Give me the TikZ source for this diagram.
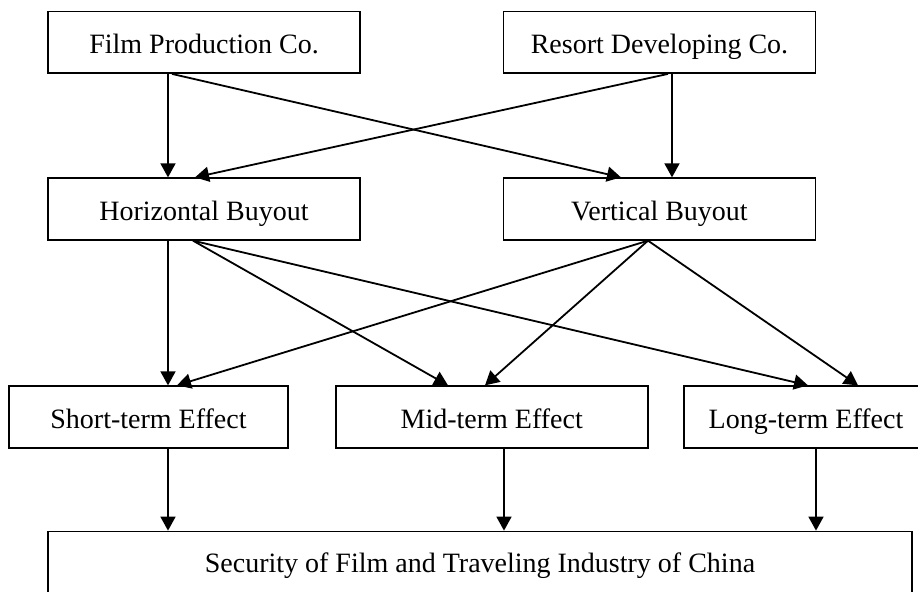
\documentclass[tikz,border=0pt]{standalone}
\usepackage{fontspec}
\setmainfont{Liberation Serif}
\usetikzlibrary{arrows.meta,calc}
\tikzset{
    unitbox/.style={draw,line width=0.9pt,inner sep=0pt,minimum height=30.75pt,text height=12pt,text depth=1pt,font=\fontsize{14}{16}\selectfont},
    firmbox/.style={unitbox,minimum width=156pt},
    effectbox/.style={unitbox,minimum width=139.5pt},
    goalbox/.style={unitbox,minimum width=432pt,minimum height=41.5pt,text height=10pt,text depth=10.5pt},
    flowvec/.style={-{Triangle[length=7pt,width=7.5pt]},line width=0.9pt}
}

\begin{document}
\begin{tikzpicture}[x=0.5pt,y=-0.5pt]
    \useasboundingbox (0,0) rectangle (918,591);
    % Companies
    \node[firmbox] (film) at (204,42.25) {Film Production Co.};
    \node[firmbox] (resort) at (659.5,42.25) {Resort Developing Co.};
    % Buyouts
    \node[firmbox] (hb) at (204,209) {Horizontal Buyout};
    \node[firmbox] (vb) at (659.5,209) {Vertical Buyout};
    % Effects
    \node[effectbox] (short) at (148.5,417) {Short-term Effect};
    \node[firmbox] (mid) at (491.75,417) {Mid-term Effect};
    \node[unitbox,minimum width=122pt] (long) at (806,417) {Long-term Effect};
    % Security
    \node[goalbox] (sec) at (480,573) {Security of Film and Traveling Industry of China};
    % Company to buyout
    \draw[flowvec] ($(film.south)+(-36,0)$) -- ($(hb.north)+(-36,0)$);
    \draw[flowvec] ($(film.south)+(-32,0)$) -- ($(vb.north)+(-38.5,0)$);
    \draw[flowvec] ($(resort.south)+(8.5,0)$) -- ($(hb.north)+(-9,0)$);
    \draw[flowvec] ($(resort.south)+(12.5,0)$) -- ($(vb.north)+(12.5,0)$);
    % Buyout to effect
    \draw[flowvec] ($(hb.south)+(-36,0)$) -- ($(short.north)+(19.5,0)$);
    \draw[flowvec] ($(hb.south)+(-11,0)$) -- ($(mid.north)+(-43.75,0)$);
    \draw[flowvec] ($(hb.south)+(-11,0)$) -- ($(long.north)+(2,0)$);
    \draw[flowvec] ($(vb.south)+(-11.5,0)$) -- ($(short.north)+(28.5,0)$);
    \draw[flowvec] ($(vb.south)+(-11.5,0)$) -- ($(mid.north)+(-6.75,0)$);
    \draw[flowvec] ($(vb.south)+(-11.5,0)$) -- ($(long.north)+(52,0)$);
    % Effect to security
    \draw[flowvec] ($(short.south)+(19.5,0)$) -- ($(sec.north)+(-312,0)$);
    \draw[flowvec] ($(mid.south)+(12.25,0)$) -- ($(sec.north)+(24,0)$);
    \draw[flowvec] ($(long.south)+(10,0)$) -- ($(sec.north)+(336,0)$);
\end{tikzpicture}
\end{document}
